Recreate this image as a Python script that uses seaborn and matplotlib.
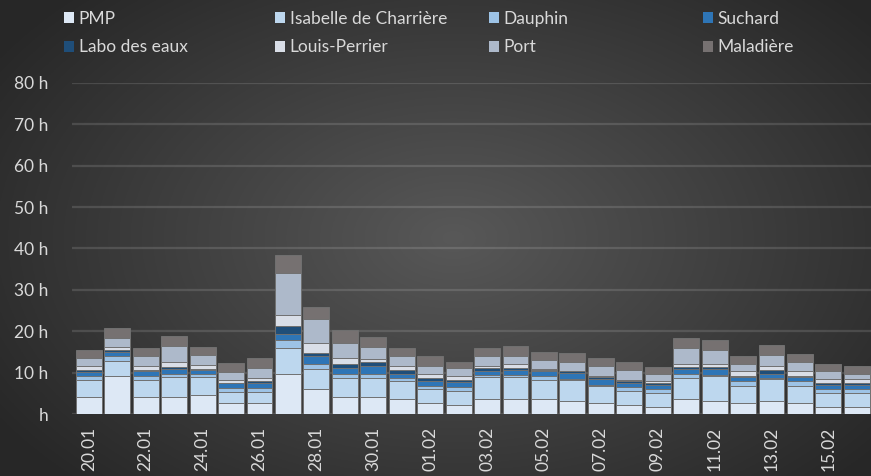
import numpy as np
import pandas as pd
import matplotlib
matplotlib.use("Agg")
import matplotlib.pyplot as plt
from matplotlib.patches import Patch
import seaborn as sns

dates = ["20.01", "21.01", "22.01", "23.01", "24.01", "25.01", "26.01", "27.01",
         "28.01", "29.01", "30.01", "31.01", "01.02", "02.02", "03.02", "04.02",
         "05.02", "06.02", "07.02", "08.02", "09.02", "10.02", "11.02", "12.02",
         "13.02", "14.02", "15.02", "16.02"]

pmp = [4.1, 9.3, 4.1, 4.1, 4.6, 2.7, 2.7, 9.7, 6.0, 4.1, 4.1, 3.7, 2.7, 2.2,
       3.7, 3.7, 3.7, 3.2, 2.7, 2.2, 1.7, 3.7, 3.2, 2.7, 3.2, 2.7, 1.7, 1.7]
isabelle = [4.2, 3.6, 4.2, 4.8, 4.3, 2.7, 2.7, 6.2, 5.0, 4.6, 4.6, 4.2, 3.4, 3.4,
            5.2, 5.3, 4.6, 5.1, 4.2, 3.4, 3.4, 5.0, 6.0, 4.2, 5.3, 4.2, 3.4, 3.4]
dauphin = [0.9, 1.2, 0.9, 0.9, 0.9, 1.0, 1.0, 1.9, 1.1, 1.1, 1.0, 0.9, 0.6, 0.9,
           0.5, 0.4, 0.9, 0.1, 0.1, 0.9, 0.9, 1.0, 0.3, 1.0, 0.2, 1.0, 0.9, 0.9]
suchard = [1.0, 1.0, 1.1, 1.0, 0.8, 1.0, 1.0, 1.6, 1.9, 1.4, 1.9, 1.0, 1.2, 1.3,
           0.9, 1.3, 1.1, 1.5, 1.5, 1.0, 1.1, 1.1, 1.3, 1.0, 1.1, 1.0, 1.1, 1.1]
labo = [0.35, 0.4, 0.3, 0.5, 0.3, 0.2, 0.5, 1.8, 0.8, 0.9, 0.9, 0.8, 0.8, 0.5,
        0.9, 0.5, 0.4, 0.4, 0.35, 0.4, 0.4, 0.5, 0.5, 0.4, 0.8, 0.3, 0.3, 0.3]
louis_perrier = [0.95, 0.8, 1.0, 1.2, 1.0, 0.6, 0.9, 2.8, 2.4, 1.4, 0.9, 1.0, 1.1, 1.0,
                 0.5, 0.9, 0.2, 0.2, 0.3, 0.4, 0.4, 0.8, 0.8, 1.0, 1.0, 1.1, 1.0, 1.0]
port = [2.0, 2.1, 2.4, 3.9, 2.4, 1.9, 2.3, 10.1, 5.8, 3.7, 2.9, 2.4, 1.9, 1.9,
        2.3, 1.9, 2.1, 2.0, 2.5, 2.3, 1.9, 3.9, 3.3, 1.8, 2.7, 2.2, 1.9, 1.4]
maladiere = [2.0, 2.3, 2.0, 2.4, 1.9, 2.3, 2.4, 4.4, 2.8, 3.0, 2.4, 2.0, 2.3, 1.4,
             2.0, 2.4, 2.0, 2.3, 1.9, 2.0, 1.5, 2.3, 2.5, 1.9, 2.3, 2.0, 1.8, 1.9]

sites = ["PMP", "Isabelle de Charrière", "Dauphin", "Suchard",
         "Labo des eaux", "Louis-Perrier", "Port", "Maladière"]
colors = ["#dde8f5", "#bdd7ee", "#9dc3e6", "#2e75b6",
          "#1f4e79", "#d9dee7", "#adb9ca", "#767171"]
ytick_labels = ["h", "10 h", "20 h", "30 h", "40 h", "50 h", "60 h", "70 h", "80 h"]

df = pd.DataFrame({"date": dates, "PMP": pmp, "Isabelle de Charrière": isabelle,
                   "Dauphin": dauphin, "Suchard": suchard, "Labo des eaux": labo,
                   "Louis-Perrier": louis_perrier, "Port": port, "Maladière": maladiere})
cum = df[sites].cumsum(axis=1)

sns.set_style("dark")
plt.rcParams["font.family"] = ["Lato", "DejaVu Sans"]
txt = "#d9d9d9"

fig = plt.figure(figsize=(8.71, 4.76), dpi=100)

# dark radial background like the Excel style
bg = fig.add_axes([0, 0, 1, 1], zorder=-5)
yy, xx = np.mgrid[0:1:300j, 0:1:500j]
r = np.sqrt(((xx - 0.52) / 0.62) ** 2 + ((yy - 0.5) / 0.72) ** 2)
r = np.clip(r, 0, 1)
shade = 0.345 - 0.19 * r
bg.imshow(np.dstack([shade, shade, shade]), extent=[0, 1, 0, 1], aspect="auto")
bg.axis("off")

ax = fig.add_axes([0.0827, 0.130, 0.9173, 0.696])
ax.set_facecolor("none")

# cumulative bars drawn from top series down, so each segment shows
for site, col in zip(sites[::-1], colors[::-1]):
    sns.barplot(x=df["date"], y=cum[site], color=col, saturation=1, width=0.91,
                edgecolor="#707070", linewidth=0.7, ax=ax, zorder=3)

ax.set_xlim(-0.59, 27.5)
ax.set_ylim(0, 80)
ax.set_yticks(range(0, 81, 10))
ax.set_yticklabels(ytick_labels)
ax.set_xticks(range(len(dates)))
ax.set_xticklabels([d if i % 2 == 0 else "" for i, d in enumerate(dates)],
                   rotation=90)
ax.tick_params(axis="y", colors=txt, labelsize=12.5, pad=17, length=0)
ax.tick_params(axis="x", colors=txt, labelsize=12.5, pad=9, length=0)
ax.set_xlabel("")
ax.set_ylabel("")
ax.grid(False)
for v in range(0, 81, 10):
    ax.axhline(v, color="#ffffff", alpha=0.13, lw=1.6, zorder=1)
for s in ax.spines.values():
    s.set_visible(False)

handles = [Patch(facecolor=c, edgecolor="none") for c in colors]
col_x = [64, 275, 489, 703]
for c, x in enumerate(col_x):
    leg = fig.legend([handles[c], handles[c + 4]], [sites[c], sites[c + 4]],
                     loc="upper left", bbox_to_anchor=(x / 871, 1 - 11 / 476),
                     frameon=False, fontsize=12.5, handlelength=0.6, handleheight=0.6,
                     handletextpad=0.25, labelspacing=0.7, borderpad=0,
                     borderaxespad=0)
    for t in leg.get_texts():
        t.set_color(txt)

fig.savefig("out.png", dpi=100)
